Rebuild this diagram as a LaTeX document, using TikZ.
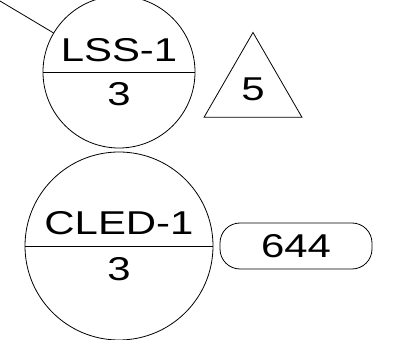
\documentclass[tikz,border=0pt]{standalone}
\usepackage{fontspec}
\setmainfont{Liberation Sans}
\usetikzlibrary{shapes.multipart,shapes.geometric}
\newcommand{\wide}[1]{\scalebox{1.27}[1]{#1}}
\begin{document}
\begin{tikzpicture}
        [
           x=1pt, y=1pt,
           every node/.style={draw, line width=0.8pt, font=\fontsize{33}{38}\selectfont},
           unit/.style={circle split, inner xsep=0pt, inner ysep=10pt},
           count/.style={regular polygon, regular polygon sides=3, minimum size=113pt, inner sep=0pt},
           total/.style={rectangle, rounded corners=20pt, minimum width=152pt, minimum height=46pt}
        ]
        \useasboundingbox (0,0) rectangle (394,340);
        \clip (0,0) rectangle (394,340);
        \coordinate (corner) at (0,339);
        \node[unit, minimum size=152pt] (lss) at (119,268) {\wide{LSS-1} \nodepart{lower} \wide{3}};
        \node[unit, minimum size=188pt, inner ysep=11pt] (cled) at (119,94) {\wide{CLED-1} \nodepart{lower} \wide{3}};
        \node[count] (five) at (253,251) {\wide{5}};
        \node[total] (len) at (296,94) {\wide{644}};
        \draw[line width=0.8pt] (corner) -- (lss);
    \end{tikzpicture}
\end{document}
